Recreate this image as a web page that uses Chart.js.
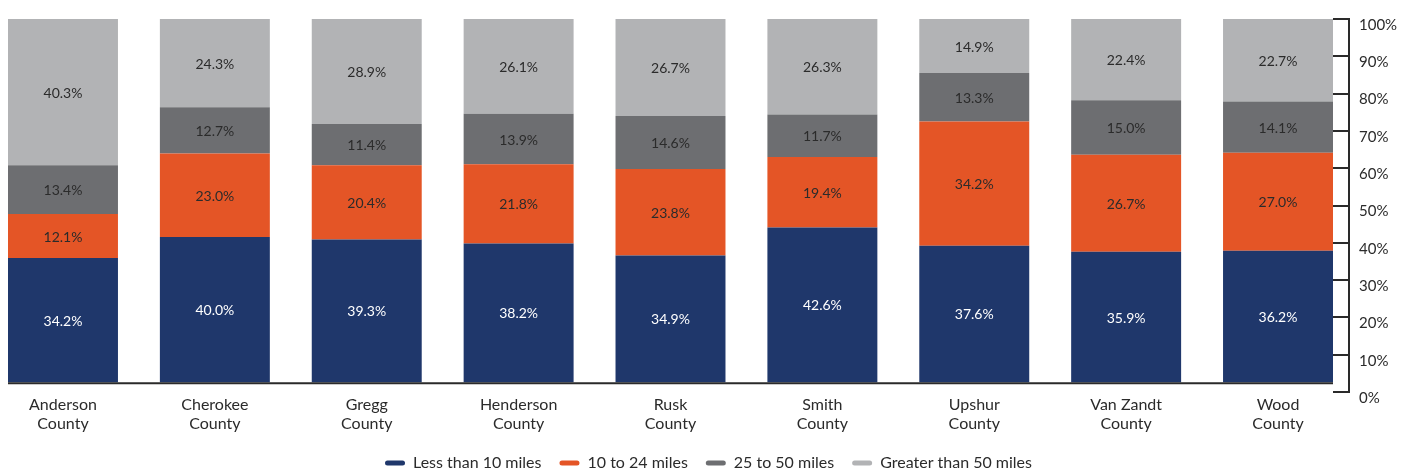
<!DOCTYPE html>
<html>
<head>
<meta charset="utf-8">
<script src="https://cdn.jsdelivr.net/npm/chart.js@4"></script>
<style>
  html, body { margin: 0; padding: 0; background: #fff; }
  #wrap { width: 1409px; height: 470px; }
</style>
</head>
<body>
<div id="wrap"><canvas id="chart"></canvas></div>
<script>
const counties = [
    ['Anderson', 'County'], ['Cherokee', 'County'], ['Gregg', 'County'],
    ['Henderson', 'County'], ['Rusk', 'County'], ['Smith', 'County'],
    ['Upshur', 'County'], ['Van Zandt', 'County'], ['Wood', 'County']
];
const lessThan10 = [34.2, 40.0, 39.3, 38.2, 34.9, 42.6, 37.6, 35.9, 36.2];
const from10to24 = [12.1, 23.0, 20.4, 21.8, 23.8, 19.4, 34.2, 26.7, 27.0];
const from25to50 = [13.4, 12.7, 11.4, 13.9, 14.6, 11.7, 13.3, 15.0, 14.1];
const over50 = [40.3, 24.3, 28.9, 26.1, 26.7, 26.3, 14.9, 22.4, 22.7];
const seriesNames = ['Less than 10 miles', '10 to 24 miles', '25 to 50 miles', 'Greater than 50 miles'];
const seriesColors = ['#1f376b', '#e45526', '#6d6e71', '#b2b3b5'];
const labelColors = ['#ffffff', '#2b2b2b', '#2b2b2b', '#2b2b2b'];

const FONT = 'Lato, "Noto Sans", sans-serif';

const toPoints = (arr) => arr.map((v, i) => ({ x: i, y: v }));

const valueLabels = {
    id: 'valueLabels',
    afterDatasetsDraw(chart) {
        const ctx = chart.ctx;
        ctx.save();
        ctx.font = '14px ' + FONT;
        ctx.textAlign = 'center';
        ctx.textBaseline = 'middle';
        chart.data.datasets.forEach((ds, di) => {
            const meta = chart.getDatasetMeta(di);
            meta.data.forEach((bar, i) => {
                ctx.fillStyle = labelColors[di];
                ctx.fillText(ds.data[i].y.toFixed(1) + '%', bar.x, (bar.y + bar.base) / 2 + 1);
            });
        });
        ctx.restore();
    }
};

const axisLines = {
    id: 'axisLines',
    afterDraw(chart) {
        const ctx = chart.ctx;
        const y = chart.scales.y;
        const y2 = chart.scales.y2;
        const area = chart.chartArea;
        ctx.save();
        ctx.strokeStyle = '#2a2a2a';
        ctx.lineWidth = 2;
        // baseline under the bars
        const base = y.getPixelForValue(0);
        ctx.beginPath();
        ctx.moveTo(area.left, base + 1);
        ctx.lineTo(area.right, base + 1);
        ctx.stroke();
        // right axis line at the end of the ticks
        const ax = y2.left + y2.options.grid.tickLength;
        ctx.beginPath();
        ctx.moveTo(ax, y2.top - 1);
        ctx.lineTo(ax, y2.bottom + 1);
        ctx.stroke();
        ctx.restore();
    }
};

new Chart(document.getElementById('chart'), {
    type: 'bar',
    data: {
        datasets: [lessThan10, from10to24, from25to50, over50].map((arr, i) => ({
            label: seriesNames[i],
            data: toPoints(arr),
            backgroundColor: seriesColors[i],
            borderWidth: 0,
            categoryPercentage: 1,
            barPercentage: 0.724,
            yAxisID: 'y'
        }))
    },
    options: {
        responsive: true,
        maintainAspectRatio: false,
        animation: false,
        layout: { padding: { left: 8, top: 14, right: 0, bottom: 0 } },
        plugins: {
            tooltip: { enabled: false },
            legend: {
                position: 'bottom',
                maxHeight: 33,
                labels: {
                    color: '#2b2b2b',
                    font: { family: FONT, size: 16 },
                    boxWidth: 20,
                    boxHeight: 5,
                    useBorderRadius: true,
                    borderRadius: 2.5,
                    padding: 18
                }
            }
        },
        scales: {
            x: {
                type: 'linear',
                stacked: true,
                offset: false,
                min: -0.362,
                max: 8.362,
                grid: { display: false, drawTicks: false },
                border: { display: false },
                ticks: {
                    stepSize: 1,
                    includeBounds: false,
                    autoSkip: false,
                    maxRotation: 0,
                    padding: 4,
                    color: '#2b2b2b',
                    font: { family: FONT, size: 16, lineHeight: 1.15 },
                    callback: (v) => Number.isInteger(v) && counties[v] ? counties[v] : ''
                },
                afterFit: (scale) => { scale.height = 45; }
            },
            y: {
                stacked: true,
                display: false,
                min: -2.7,
                max: 100
            },
            y2: {
                position: 'right',
                min: 0,
                max: 100,
                grid: {
                    drawOnChartArea: false,
                    drawTicks: true,
                    tickLength: 16,
                    color: '#2a2a2a',
                    lineWidth: 2
                },
                border: { display: false },
                ticks: {
                    stepSize: 10,
                    padding: 10,
                    labelOffset: 6,
                    crossAlign: 'near',
                    color: '#2b2b2b',
                    font: { family: FONT, size: 15 },
                    callback: (v) => v + '%'
                },
                afterFit: (scale) => { scale.width = 76; }
            }
        }
    },
    plugins: [valueLabels, axisLines]
});
</script>
</body>
</html>
